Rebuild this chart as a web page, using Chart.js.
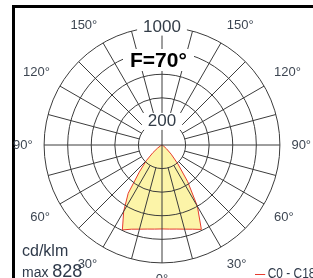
<!DOCTYPE html>
<html>
<head>
<meta charset="utf-8">
<script src="https://cdn.jsdelivr.net/npm/chart.js@4"></script>
<style>
  html, body { margin: 0; padding: 0; background: #fff; }
  body { width: 313px; height: 278px; overflow: hidden; position: relative; font-family: 'Liberation Sans', Arial, sans-serif; }
  #frame { position: absolute; left: 12px; top: 5px; width: 400px; height: 400px; border-left: 3px solid #000; border-top: 3px solid #000; }
  #chart { position: absolute; left: 5px; top: 0; }
  .txt { position: absolute; color: #2f3a4a; white-space: nowrap; }
  #flux { left: 123px; top: 49px; padding: 0 7px; background: #fff; color: #000; font-weight: bold; font-size: 21px; line-height: 22px; }
  #unit { left: 22px; top: 243px; font-size: 16px; line-height: 16px; }
  #max { left: 22px; top: 261px; font-size: 18px; line-height: 20px; }
  #max small { font-size: 14px; }
  #legend { left: 255px; top: 265px; font-size: 14px; line-height: 16px; transform: scaleX(0.85); transform-origin: 0 0; }
  #legend i { display: inline-block; width: 12px; height: 1px; background: #e63b2e; vertical-align: middle; margin-right: 3px; }
</style>
</head>
<body>
<div id="frame"></div>
<canvas id="chart" width="315" height="291"></canvas>
<div class="txt" id="flux">F=70°</div>
<div class="txt" id="unit">cd/klm</div>
<div class="txt" id="max"><small>max </small>828</div>
<div class="txt" id="legend"><i></i>C0 - C180</div>
<script>
// gamma angles (0 = straight down), cd/klm
const gammaDeg = [0, 5, 10, 15, 20, 25, 30, 35, 40, 45, 50, 55, 60, 65, 70, 75, 80, 85, 90,
  95, 100, 105, 110, 115, 120, 125, 130, 135, 140, 145, 150, 155, 160, 165, 170, 175, 180];
const c0Values = [712, 716, 724, 739, 760, 790, 600, 380, 210, 110, 50, 20, 5, 0, 0, 0, 0, 0, 0,
  0, 0, 0, 0, 0, 0, 0, 0, 0, 0, 0, 0, 0, 0, 0, 0, 0, 0];
const c180Values = [712, 716, 724, 739, 760, 795, 650, 500, 300, 190, 100, 45, 15, 0, 0, 0, 0, 0, 0,
  0, 0, 0, 0, 0, 0, 0, 0, 0, 0, 0, 0, 0, 0, 0, 0, 0, 0];
const labeledAngles = [0, 30, 60, 90, 120, 150];
const labeledRings = [200, 1000];

const sans = "'Liberation Sans', Arial, sans-serif";

// radar goes clockwise from the top: C0 on the right (180 -> 0), C180 on the left (5 -> 175)
const labels = [];
const values = [];
for (let k = gammaDeg.length - 1; k >= 0; k--) {
  labels.push(gammaDeg[k]);
  values.push(c0Values[k]);
}
for (let k = 1; k < gammaDeg.length - 1; k++) {
  labels.push(gammaDeg[k]);
  values.push(c180Values[k]);
}

// spokes every 15 deg, starting at the 200 ring (axes go through the centre)
function spokeDash(ctx) {
  if (ctx.index % 18 === 0) return [];
  const s = ctx.chart.scales.r;
  const r = s.getDistanceFromCenterForValue(200);
  return [s.drawingArea - r, r];
}

new Chart(document.getElementById('chart'), {
  type: 'radar',
  data: {
    labels: labels.map(g => labeledAngles.includes(g) ? g + '°' : ''),
    datasets: [{
      label: 'C0 - C180',
      data: values,
      borderColor: '#e63b2e',
      borderWidth: 1,
      backgroundColor: '#fcf4a8',
      fill: true,
      pointRadius: 0,
      tension: 0
    }]
  },
  options: {
    responsive: false,
    animation: false,
    devicePixelRatio: 1,
    layout: { padding: 0 },
    plugins: { legend: { display: false }, tooltip: { enabled: false } },
    scales: {
      r: {
        min: 0,
        max: 1000,
        startAngle: 0,
        grid: { circular: true, color: '#3c3c3c', lineWidth: 1, z: 1 },
        angleLines: {
          color: '#3c3c3c',
          lineWidth: ctx => ctx.index % 3 === 0 ? 1 : 0,
          borderDash: spokeDash,
          borderDashOffset: ctx => {
            const d = spokeDash(ctx);
            return d.length ? d[0] : 0;
          }
        },
        pointLabels: {
          font: { family: sans, size: 13 },
          color: '#3d4652',
          padding: ctx => ctx.label === '0°' ? 0 : 3
        },
        ticks: {
          stepSize: 200,
          z: 2,
          font: { family: sans, size: 17 },
          color: '#333d48',
          backdropPadding: { x: 6, y: 0 },
          backdropColor: ctx => labeledRings.includes(ctx.tick.value) ? '#fff' : 'rgba(0,0,0,0)',
          callback: v => labeledRings.includes(v) ? String(v) : ''
        }
      }
    }
  }
});
</script>
</body>
</html>
